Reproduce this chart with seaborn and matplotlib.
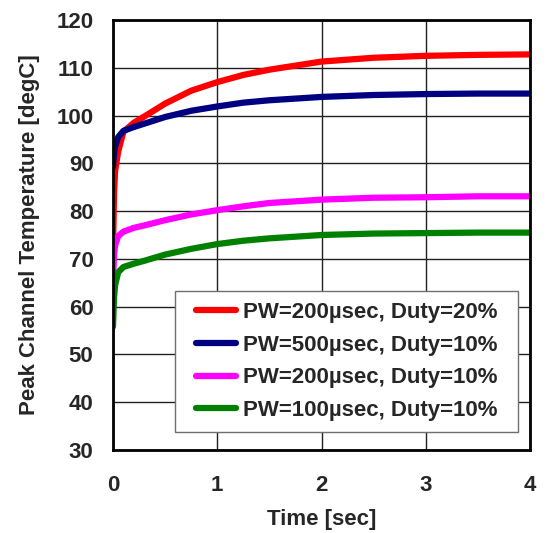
import matplotlib
matplotlib.use("Agg")
import matplotlib.pyplot as plt
from matplotlib.patches import Rectangle
import seaborn as sns
import pandas as pd

time_s = [0, 0.01, 0.02, 0.05, 0.1, 0.2, 0.3, 0.5, 0.75, 1.0, 1.25, 1.5, 2.0, 2.5, 3.0, 3.5, 4.0]
pw200_d20 = [72, 84, 88.4, 92.5, 96.6, 98.5, 99.8, 102.5, 105.2, 107.0, 108.5, 109.6, 111.3, 112.1, 112.5, 112.7, 112.8]
pw500_d10 = [89.3, 92, 93.5, 95.5, 96.8, 97.6, 98.3, 99.7, 101.0, 101.9, 102.7, 103.2, 103.9, 104.3, 104.5, 104.6, 104.6]
pw200_d10 = [65.5, 71, 72.8, 74.8, 75.7, 76.5, 77.0, 78.1, 79.3, 80.2, 81.0, 81.7, 82.4, 82.8, 82.9, 83.1, 83.1]
pw100_d10 = [55.8, 62, 64.5, 67.2, 68.3, 69.0, 69.6, 70.9, 72.1, 73.1, 73.8, 74.3, 75.0, 75.3, 75.4, 75.5, 75.5]
series_labels = ["PW=200µsec, Duty=20%", "PW=500µsec, Duty=10%",
                 "PW=200µsec, Duty=10%", "PW=100µsec, Duty=10%"]
series_colors = ["#FF0000", "#000080", "#FF00FF", "#008000"]
x_ticks = [0, 1, 2, 3, 4]
y_ticks = [30, 40, 50, 60, 70, 80, 90, 100, 110, 120]

frames = []
for lab, vals in zip(series_labels, [pw200_d20, pw500_d10, pw200_d10, pw100_d10]):
    frames.append(pd.DataFrame({"Time": time_s, "Temp": vals, "Series": lab}))
df = pd.concat(frames, ignore_index=True)

sns.set_style("white")
plt.rcParams["font.family"] = ["Liberation Sans", "DejaVu Sans"]
plt.rcParams["font.weight"] = "bold"

FS = 16
fig = plt.figure(figsize=(5.47, 5.33), dpi=100)
ax = fig.add_axes([113 / 547, 1 - 450 / 533, 417 / 547, 430 / 533])

sns.lineplot(data=df, x="Time", y="Temp", hue="Series", hue_order=series_labels,
             palette=dict(zip(series_labels, series_colors)), linewidth=4.5,
             ax=ax, legend=True)

ax.set_xlim(0, 4)
ax.set_ylim(30, 120)
ax.set_xticks(x_ticks)
ax.set_yticks(y_ticks)
ax.grid(True, color="#202020", linewidth=1.0)
ax.set_axisbelow(True)
for sp in ax.spines.values():
    sp.set_color("black")
    sp.set_linewidth(2)
ax.tick_params(axis="both", length=0, labelsize=FS)
ax.tick_params(axis="x", pad=18)
ax.tick_params(axis="y", pad=14)
for lbl in ax.get_xticklabels() + ax.get_yticklabels():
    lbl.set_fontweight("bold")

ax.set_xlabel("Time [sec]", fontsize=FS, fontweight="bold", labelpad=9)
ax.set_ylabel("Peak Channel Temperature [degC]", fontsize=FS, fontweight="bold", labelpad=12)

# legend frame (drawn separately so the entries can sit centred in a wider box)
box_x, box_y, box_w, box_h = 0.1487, 0.042, 0.8225, 0.328
ax.add_patch(Rectangle((box_x, box_y), box_w, box_h, transform=ax.transAxes,
                       facecolor="white", edgecolor="#707070", linewidth=1.0,
                       zorder=4.5))

handles, labels = ax.get_legend_handles_labels()
for h in handles:
    h.set_marker("s")
    h.set_markersize(5)
    h.set_markeredgewidth(0)
leg = ax.legend(handles, labels, loc="center",
                bbox_to_anchor=(box_x + box_w / 2, box_y + box_h / 2),
                prop={"weight": "bold", "size": FS}, frameon=False,
                handlelength=1.8, handletextpad=0.3,
                labelspacing=0.53, borderpad=0.47, borderaxespad=0)
leg.set_zorder(5)

fig.savefig("out.png", dpi=100)
